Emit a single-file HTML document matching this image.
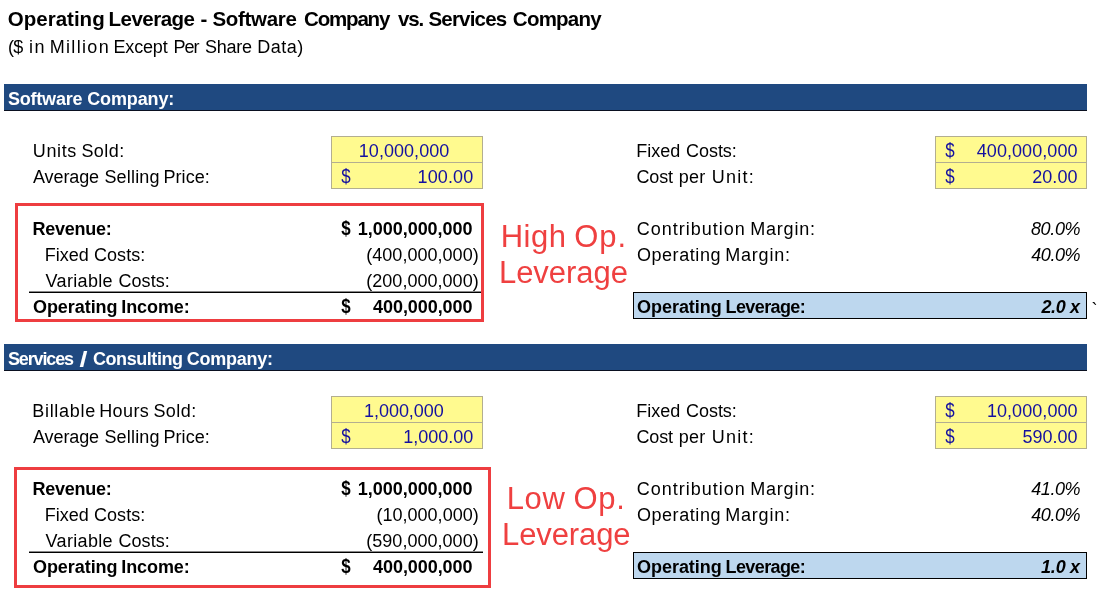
<!DOCTYPE html>
<html><head><meta charset="utf-8"><title>Operating Leverage</title>
<style>
html,body{margin:0;padding:0;background:#fff}
body{width:1103px;height:592px;position:relative;overflow:hidden;font-family:'Liberation Sans',sans-serif}
.t{position:absolute;white-space:pre;line-height:1;font-family:'Liberation Sans',sans-serif;color:#000}
.x{position:absolute}
.r{font-size:18px}
.b{font-size:18px;font-weight:bold}
.i{font-size:18px;font-style:italic}
.bi{font-size:18px;font-weight:bold;font-style:italic}
.tt{font-size:20.5px;font-weight:bold}
.rd{font-size:31px}
.bl{color:#1410a0} .wh{color:#fff} .re{color:#ef4040}
</style></head><body>
<div class="x" style="left:4px;top:84px;width:1083px;height:26px;background:#1f4980"></div>
<div class="x" style="left:4px;top:110px;width:1083px;height:1px;background:#0a1020"></div>
<div class="x" style="left:331px;top:136px;width:152px;height:52.5px;background:#fffa8f;border:1px solid #b3ae90;box-sizing:border-box"></div>
<div class="x" style="left:331px;top:162px;width:152px;height:1px;background:#b3ae90"></div>
<div class="x" style="left:935px;top:136px;width:152px;height:52.5px;background:#fffa8f;border:1px solid #b3ae90;box-sizing:border-box"></div>
<div class="x" style="left:935px;top:162px;width:152px;height:1px;background:#b3ae90"></div>
<div class="x" style="left:29px;top:291px;width:454px;height:1px;background:#888"></div>
<div class="x" style="left:29px;top:292px;width:454px;height:1px;background:#000"></div>
<div class="x" style="left:633px;top:292px;width:454px;height:27px;background:#bdd7ee;border:1px solid #000;box-sizing:border-box"></div>
<div class="x" style="left:4px;top:344px;width:1083px;height:26px;background:#1f4980"></div>
<div class="x" style="left:4px;top:370px;width:1083px;height:1px;background:#0a1020"></div>
<div class="x" style="left:331px;top:396px;width:152px;height:52.5px;background:#fffa8f;border:1px solid #b3ae90;box-sizing:border-box"></div>
<div class="x" style="left:331px;top:422px;width:152px;height:1px;background:#b3ae90"></div>
<div class="x" style="left:935px;top:396px;width:152px;height:52.5px;background:#fffa8f;border:1px solid #b3ae90;box-sizing:border-box"></div>
<div class="x" style="left:935px;top:422px;width:152px;height:1px;background:#b3ae90"></div>
<div class="x" style="left:29px;top:551px;width:454px;height:1px;background:#888"></div>
<div class="x" style="left:29px;top:552px;width:454px;height:1px;background:#000"></div>
<div class="x" style="left:633px;top:552px;width:454px;height:27px;background:#bdd7ee;border:1px solid #000;box-sizing:border-box"></div>
<div class="x" style="left:15px;top:203px;width:469px;height:119px;border:3px solid #ee3d40;box-sizing:border-box"></div>
<div class="x" style="left:14px;top:467px;width:477px;height:121px;border:3px solid #ee3d40;box-sizing:border-box"></div>
<span class="t tt" style="left:7.85px;top:9px">Operating </span>
<span class="t tt" style="left:108.62px;top:9px;letter-spacing:-0.53px">Leverage </span>
<span class="t tt" style="left:200.60px;top:9px">- </span>
<span class="t tt" style="left:212.42px;top:9px;letter-spacing:-0.29px">Software </span>
<span class="t tt" style="left:304.12px;top:9px;letter-spacing:-1.2px">Company </span>
<span class="t tt" style="left:398.11px;top:9px;letter-spacing:-1.2px">vs. </span>
<span class="t tt" style="left:428.48px;top:9px;letter-spacing:-0.81px">Services </span>
<span class="t tt" style="left:512.87px;top:9px;letter-spacing:-0.78px">Company</span>
<span class="t r" style="left:8.10px;top:38px;letter-spacing:-0.76px">($ </span>
<span class="t r" style="left:29.09px;top:38px;letter-spacing:1.5px">in </span>
<span class="t r" style="left:49.72px;top:38px;letter-spacing:1.32px">Million </span>
<span class="t r" style="left:113.46px;top:38px;letter-spacing:-0.15px">Except </span>
<span class="t r" style="left:173.53px;top:38px;letter-spacing:-0.97px">Per </span>
<span class="t r" style="left:205.10px;top:38px;letter-spacing:-0.25px">Share </span>
<span class="t r" style="left:257.21px;top:38px;letter-spacing:0.48px">Data)</span>
<span class="t b wh" style="left:7.98px;top:90px;letter-spacing:-0.21px">Software </span>
<span class="t b wh" style="left:87.24px;top:90px;letter-spacing:-0.14px">Company:</span>
<span class="t r" style="left:32.87px;top:142px;letter-spacing:0.61px">Units </span>
<span class="t r" style="left:81.38px;top:142px;letter-spacing:0.45px">Sold:</span>
<span class="t r" style="left:33.05px;top:168px;letter-spacing:-0.11px">Average </span>
<span class="t r" style="left:104.41px;top:168px;letter-spacing:0.18px">Selling </span>
<span class="t r" style="left:163.46px;top:168px;letter-spacing:0.08px">Price:</span>
<span class="t r bl" style="left:358.80px;top:142px;letter-spacing:0.04px">10,000,000</span>
<span class="t r bl" style="left:340.82px;top:168px;transform:scale(0.94,1.12);transform-origin:5.1px 16.3px">$</span>
<span class="t r bl" style="left:417.56px;top:168px;letter-spacing:0.12px">100.00</span>
<span class="t r" style="left:636.23px;top:142px;letter-spacing:-0.01px">Fixed </span>
<span class="t r" style="left:685.95px;top:142px;letter-spacing:-0.02px">Costs:</span>
<span class="t r" style="left:636.48px;top:168px;letter-spacing:-0.17px">Cost </span>
<span class="t r" style="left:678.79px;top:168px;letter-spacing:0.26px">per </span>
<span class="t r" style="left:711.87px;top:168px;letter-spacing:1.2px">Unit:</span>
<span class="t r bl" style="left:944.75px;top:142px;transform:scale(0.94,1.12);transform-origin:5.1px 16.3px">$</span>
<span class="t r bl" style="left:976.77px;top:142px;letter-spacing:0.06px">400,000,000</span>
<span class="t r bl" style="left:944.75px;top:168px;transform:scale(0.94,1.12);transform-origin:5.1px 16.3px">$</span>
<span class="t r bl" style="left:1032.13px;top:168px;letter-spacing:0.08px">20.00</span>
<span class="t b" style="left:32.54px;top:220px;letter-spacing:-0.26px">Revenue:</span>
<span class="t r" style="left:44.73px;top:246px;letter-spacing:-0.01px">Fixed </span>
<span class="t r" style="left:93.96px;top:246px;letter-spacing:0.08px">Costs:</span>
<span class="t r" style="left:45.53px;top:272px;letter-spacing:0.34px">Variable </span>
<span class="t r" style="left:118.46px;top:272px;letter-spacing:0.08px">Costs:</span>
<span class="t b" style="left:32.99px;top:298px;letter-spacing:-0.06px">Operating </span>
<span class="t b" style="left:121.26px;top:298px;letter-spacing:-0.09px">Income:</span>
<span class="t b" style="left:340.87px;top:220px;transform:scale(0.94,1.12);transform-origin:5.1px 17.1px">$</span>
<span class="t b" style="left:357.80px;top:220px;letter-spacing:-0.03px">1,000,000,000</span>
<span class="t r" style="left:366.25px;top:246px;letter-spacing:0.03px">(400,000,000)</span>
<span class="t r" style="left:366.25px;top:272px;letter-spacing:0.03px">(200,000,000)</span>
<span class="t b" style="left:340.87px;top:298px;transform:scale(0.94,1.12);transform-origin:5.1px 17.1px">$</span>
<span class="t b" style="left:373.12px;top:298px;letter-spacing:-0.07px">400,000,000</span>
<span class="t r" style="left:636.71px;top:220px;letter-spacing:0.99px">Contribution </span>
<span class="t r" style="left:750.20px;top:220px;letter-spacing:0.81px">Margin:</span>
<span class="t r" style="left:636.90px;top:246px;letter-spacing:0.57px">Operating </span>
<span class="t r" style="left:725.20px;top:246px;letter-spacing:0.81px">Margin:</span>
<span class="t i" style="left:1030.93px;top:220px;letter-spacing:-0.34px">80.0%</span>
<span class="t i" style="left:1031.18px;top:246px;letter-spacing:-0.4px">40.0%</span>
<span class="t b" style="left:636.99px;top:298px;letter-spacing:-0.03px">Operating </span>
<span class="t b" style="left:725.51px;top:298px;letter-spacing:-0.6px">Leverage:</span>
<span class="t bi" style="left:1041.52px;top:298px;letter-spacing:-0.41px">2.0 </span>
<span class="t bi" style="left:1070.02px;top:298px">x</span>
<span class="t b wh" style="left:7.88px;top:350px;letter-spacing:-1.13px">Services </span>
<span class="t b wh" style="left:81.25px;top:350px;transform:scale(1.6,1.27);transform-origin:2.5px 8.5px">/ </span>
<span class="t b wh" style="left:93.00px;top:350px;letter-spacing:-0.44px">Consulting </span>
<span class="t b wh" style="left:186.74px;top:350px;letter-spacing:-0.25px">Company:</span>
<span class="t r" style="left:32.31px;top:402px;letter-spacing:0.69px">Billable </span>
<span class="t r" style="left:99.25px;top:402px;letter-spacing:0.37px">Hours </span>
<span class="t r" style="left:153.38px;top:402px;letter-spacing:0.45px">Sold:</span>
<span class="t r" style="left:33.05px;top:428px;letter-spacing:-0.11px">Average </span>
<span class="t r" style="left:104.41px;top:428px;letter-spacing:0.18px">Selling </span>
<span class="t r" style="left:163.46px;top:428px;letter-spacing:0.08px">Price:</span>
<span class="t r bl" style="left:364.06px;top:402px;letter-spacing:-0.05px">1,000,000</span>
<span class="t r bl" style="left:340.82px;top:428px;transform:scale(0.94,1.12);transform-origin:5.1px 16.3px">$</span>
<span class="t r bl" style="left:403.29px;top:428px;letter-spacing:-0.02px">1,000.00</span>
<span class="t r" style="left:636.23px;top:402px;letter-spacing:-0.01px">Fixed </span>
<span class="t r" style="left:685.95px;top:402px;letter-spacing:-0.02px">Costs:</span>
<span class="t r" style="left:636.48px;top:428px;letter-spacing:-0.17px">Cost </span>
<span class="t r" style="left:678.79px;top:428px;letter-spacing:0.26px">per </span>
<span class="t r" style="left:711.87px;top:428px;letter-spacing:1.2px">Unit:</span>
<span class="t r bl" style="left:944.75px;top:402px;transform:scale(0.94,1.12);transform-origin:5.1px 16.3px">$</span>
<span class="t r bl" style="left:986.92px;top:402px;letter-spacing:0.06px">10,000,000</span>
<span class="t r bl" style="left:944.75px;top:428px;transform:scale(0.94,1.12);transform-origin:5.1px 16.3px">$</span>
<span class="t r bl" style="left:1022.41px;top:428px">590.00</span>
<span class="t b" style="left:32.54px;top:480px;letter-spacing:-0.26px">Revenue:</span>
<span class="t r" style="left:44.73px;top:506px;letter-spacing:-0.01px">Fixed </span>
<span class="t r" style="left:93.96px;top:506px;letter-spacing:0.08px">Costs:</span>
<span class="t r" style="left:45.53px;top:532px;letter-spacing:0.34px">Variable </span>
<span class="t r" style="left:118.46px;top:532px;letter-spacing:0.08px">Costs:</span>
<span class="t b" style="left:32.99px;top:558px;letter-spacing:-0.06px">Operating </span>
<span class="t b" style="left:121.26px;top:558px;letter-spacing:-0.09px">Income:</span>
<span class="t b" style="left:340.87px;top:480px;transform:scale(0.94,1.12);transform-origin:5.1px 17.1px">$</span>
<span class="t b" style="left:357.80px;top:480px;letter-spacing:-0.03px">1,000,000,000</span>
<span class="t r" style="left:376.50px;top:506px;letter-spacing:0.01px">(10,000,000)</span>
<span class="t r" style="left:366.25px;top:532px;letter-spacing:0.03px">(590,000,000)</span>
<span class="t b" style="left:340.87px;top:558px;transform:scale(0.94,1.12);transform-origin:5.1px 17.1px">$</span>
<span class="t b" style="left:373.12px;top:558px;letter-spacing:-0.07px">400,000,000</span>
<span class="t r" style="left:636.71px;top:480px;letter-spacing:0.99px">Contribution </span>
<span class="t r" style="left:750.20px;top:480px;letter-spacing:0.81px">Margin:</span>
<span class="t r" style="left:636.90px;top:506px;letter-spacing:0.57px">Operating </span>
<span class="t r" style="left:725.20px;top:506px;letter-spacing:0.81px">Margin:</span>
<span class="t i" style="left:1031.18px;top:480px;letter-spacing:-0.4px">41.0%</span>
<span class="t i" style="left:1031.18px;top:506px;letter-spacing:-0.4px">40.0%</span>
<span class="t b" style="left:636.99px;top:558px;letter-spacing:-0.03px">Operating </span>
<span class="t b" style="left:725.51px;top:558px;letter-spacing:-0.6px">Leverage:</span>
<span class="t bi" style="left:1040.95px;top:558px;letter-spacing:-0.11px">1.0 </span>
<span class="t bi" style="left:1070.02px;top:558px">x</span>
<span class="t rd re" style="left:500.68px;top:221px;letter-spacing:0.5px">High </span>
<span class="t rd re" style="left:574.20px;top:221px;letter-spacing:1.0px">Op.</span>
<span class="t rd re" style="left:498.95px;top:257px;letter-spacing:-0.04px">Leverage</span>
<span class="t rd re" style="left:506.68px;top:483px;letter-spacing:0.67px">Low </span>
<span class="t rd re" style="left:573.50px;top:483px;letter-spacing:0.65px">Op.</span>
<span class="t rd re" style="left:502.04px;top:519px;letter-spacing:-0.11px">Leverage</span>
<span class="t r" style="left:1091.5px;top:301px">`</span>
</body></html>
